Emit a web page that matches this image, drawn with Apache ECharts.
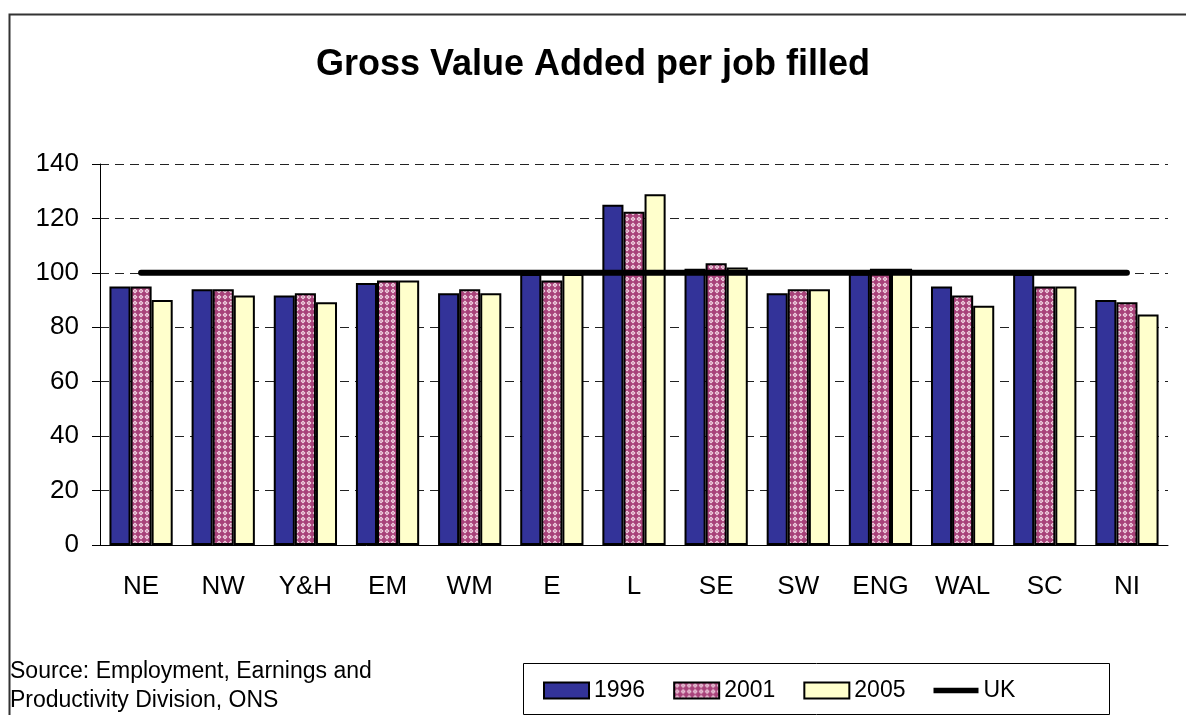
<!DOCTYPE html>
<html>
<head>
<meta charset="utf-8">
<script src="https://cdn.jsdelivr.net/npm/echarts@6/dist/echarts.min.js"></script>
<style>
    html, body { margin: 0; padding: 0; background: #fff; }
    #main { width: 1186px; height: 715px; }
</style>
</head>
<body>
<div id="main"></div>
<script>
// regions
var regions = ['NE', 'NW', 'Y&H', 'EM', 'WM', 'E', 'L', 'SE', 'SW', 'ENG', 'WAL', 'SC', 'NI'];
// GVA per job filled, UK = 100
var gva1996 = [95, 94, 91.7, 96.3, 92.5, 99.6, 125, 101.5, 92.5, 99.8, 95, 99.6, 90];
var gva2001 = [95, 94, 92.5, 97.2, 94, 97.2, 122.5, 103.5, 94, 101.5, 91.7, 95, 89.2];
var gva2005 = [90, 91.7, 89.2, 97.2, 92.5, 99.6, 128.9, 102, 94, 101.5, 87.9, 95, 84.7];
var ukLevel = [100, 100, 100, 100, 100, 100, 100, 100, 100, 100, 100, 100, 100];
var yTicks = [0, 20, 40, 60, 80, 100, 120, 140];

// 菱形格子图案（2001）
function makePattern() {
    var c = document.createElement('canvas');
    c.width = 6;
    c.height = 6;
    var ctx = c.getContext('2d');
    ctx.fillStyle = '#a8427a';
    ctx.fillRect(0, 0, 6, 6);
    ctx.fillStyle = '#f4dbe7';
    ctx.beginPath();
    ctx.moveTo(3, 0.5); ctx.lineTo(5.5, 3); ctx.lineTo(3, 5.5); ctx.lineTo(0.5, 3);
    ctx.closePath();
    ctx.fill();
    ctx.fillStyle = '#a8427a';
    ctx.fillRect(2.4, 2.4, 1.2, 1.2);
    return c;
}

var barBorder = {borderColor: '#000', borderWidth: 2};

var option = {
    animation: false,
    textStyle: {fontFamily: 'Liberation Sans, Arial, sans-serif'},
    title: {
        text: 'Gross Value Added per job filled',
        left: 'center',
        top: 42,
        textStyle: {fontSize: 36, fontWeight: 'bold', color: '#000'}
    },
    grid: {left: 100, right: 18, top: 164, bottom: 170},
    legend: {
        left: 538,
        top: 674,
        icon: 'rect',
        itemWidth: 45,
        itemHeight: 16,
        itemGap: 28,
        textStyle: {fontSize: 23, color: '#000'},
        data: ['1996', '2001', '2005', {
            name: 'UK',
            icon: 'path://M0,0 L50,0 L50,6 L0,6 Z'
        }]
    },
    xAxis: {
        type: 'category',
        data: regions,
        axisLine: {lineStyle: {color: '#000', width: 1}},
        axisTick: {length: 8, lineStyle: {color: '#000'}},
        axisLabel: {fontSize: 26, color: '#000', margin: 29}
    },
    yAxis: {
        type: 'value',
        min: yTicks[0],
        max: yTicks[yTicks.length - 1],
        interval: 20,
        axisLine: {show: true, lineStyle: {color: '#000', width: 1}},
        axisTick: {show: true, length: 8, lineStyle: {color: '#000'}},
        axisLabel: {fontSize: 26, color: '#000', margin: 21},
        splitLine: {lineStyle: {color: '#222', type: [9, 6], width: 1}}
    },
    series: [
        {
            name: '1996', type: 'bar', data: gva1996,
            barGap: '0%', barCategoryGap: '23%',
            itemStyle: Object.assign({color: '#333399'}, barBorder)
        },
        {
            name: '2001', type: 'bar', data: gva2001,
            itemStyle: Object.assign({color: {image: makePattern(), repeat: 'repeat'}}, barBorder)
        },
        {
            name: '2005', type: 'bar', data: gva2005,
            itemStyle: Object.assign({color: '#ffffcc'}, barBorder)
        },
        {
            name: 'UK', type: 'line', data: ukLevel,
            symbol: 'none', z: 5,
            lineStyle: {color: '#000', width: 6, cap: 'round'},
            itemStyle: {color: '#000'}
        }
    ],
    graphic: [
        {
            type: 'rect', left: 7, top: 12, z: -1,
            shape: {width: 1200, height: 720},
            style: {fill: 'none', stroke: '#333', lineWidth: 2}
        },
        {
            type: 'rect', left: 521, top: 661,
            shape: {width: 586, height: 51},
            style: {fill: 'none', stroke: '#000', lineWidth: 1}
        },
        {
            type: 'text', left: 10, top: 657,
            style: {
                text: 'Source: Employment, Earnings and\nProductivity Division, ONS',
                font: '23px Liberation Sans', fill: '#000', lineHeight: 29
            }
        }
    ]
};

var myChart = echarts.init(document.getElementById('main'));
myChart.setOption(option);
</script>
</body>
</html>
